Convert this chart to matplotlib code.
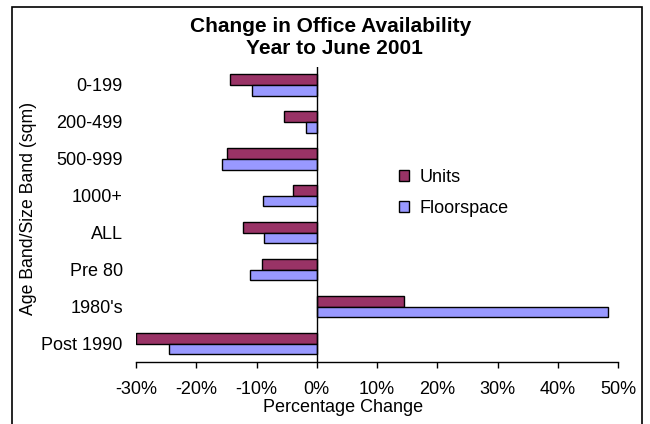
import matplotlib

matplotlib.use("Agg")
import matplotlib.pyplot as plt
import numpy as np
from matplotlib.patches import Rectangle
from matplotlib.ticker import FuncFormatter

plt.rcParams["font.family"] = ["Liberation Sans", "DejaVu Sans"]

CATEGORIES = ["0-199", "200-499", "500-999", "1000+", "ALL", "Pre 80", "1980's", "Post 1990"]
UNITS = [-14.4, -5.5, -14.9, -4.0, -12.2, -9.1, 14.4, -30.0]
FLOORSPACE = [-10.8, -1.8, -15.8, -9.0, -8.8, -11.1, 48.4, -24.5]
X_TICKS = [-30, -20, -10, 0, 10, 20, 30, 40, 50]

UNITS_COLOR = "#993366"
FLOOR_COLOR = "#9999FF"

W, H = 650, 424
fig = plt.figure(figsize=(W / 100, H / 100), dpi=100)

# outer chart frame (open at the bottom edge)
fig.patches.append(
    Rectangle((12 / W, -0.05), 630 / W, 1.05 - 7 / H, transform=fig.transFigure,
              fill=False, edgecolor="black", linewidth=1.2)
)

ax = fig.add_axes([136 / W, (H - 362) / H, 482 / W, 295.5 / H])

y = np.arange(len(CATEGORIES))
bar_h = 0.29
b_units = ax.barh(y - bar_h / 2, UNITS, height=bar_h, color=UNITS_COLOR,
                  edgecolor="black", linewidth=1.0, label="Units")
b_floor = ax.barh(y + bar_h / 2, FLOORSPACE, height=bar_h, color=FLOOR_COLOR,
                  edgecolor="black", linewidth=1.0, label="Floorspace")

ax.set_xlim(-30, 50)
ax.set_ylim(len(CATEGORIES) - 0.5, -0.5)
ax.set_xticks(X_TICKS)
ax.xaxis.set_major_formatter(FuncFormatter(lambda v, _: f"{v:.0f}%"))
ax.set_yticks(y)
ax.set_yticklabels(CATEGORIES)

ax.tick_params(axis="y", length=0, pad=9.5, labelsize=13)
ax.tick_params(axis="x", direction="out", length=4, width=1, pad=9.5, labelsize=13)

for side in ["top", "right", "left"]:
    ax.spines[side].set_visible(False)
ax.spines["bottom"].set_linewidth(1.0)
ax.axvline(0, color="black", linewidth=1.0)

fig.text(331 / W, 1 - 26 / H, "Change in Office Availability", ha="center", va="center",
         fontsize=15, fontweight="bold")
fig.text(334 / W, 1 - 48.5 / H, "Year to June 2001", ha="center", va="center",
         fontsize=15, fontweight="bold")
fig.text(343.5 / W, 1 - 408 / H, "Percentage Change", ha="center", va="center", fontsize=13)
fig.text(29 / W, 1 - 208 / H, "Age Band/Size Band (sqm)", ha="center", va="center",
         rotation=90, fontsize=12.7)

fig.legend(handles=[b_units, b_floor], labels=["Units", "Floorspace"],
           loc="upper left", bbox_to_anchor=(392 / W, 1 - 162 / H), frameon=False,
           fontsize=13, handlelength=0.55, handleheight=0.55, handletextpad=0.6,
           labelspacing=0.75, borderaxespad=0)

fig.savefig("out.png", dpi=100)
